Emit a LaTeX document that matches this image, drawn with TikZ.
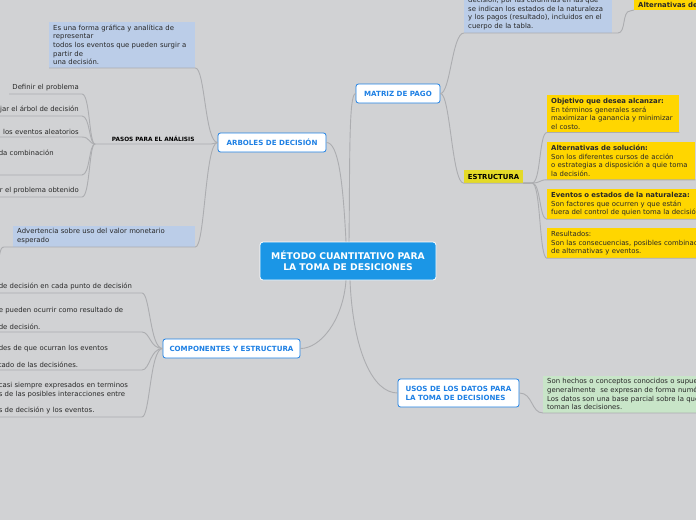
\documentclass[tikz,border=0pt]{standalone}
\usepackage{fontspec}
\setmainfont{DejaVu Sans}
\usetikzlibrary{positioning,calc}
\definecolor{fondoColor}{RGB}{209,210,212}
\definecolor{linkColor}{RGB}{172,173,176}
\definecolor{rootColor}{RGB}{27,150,230}
\definecolor{topicColor}{RGB}{30,128,228}
\definecolor{notaColor}{RGB}{187,205,232}
\definecolor{goldColor}{RGB}{255,214,0}
\definecolor{estrColor}{RGB}{228,218,40}
\definecolor{verdeColor}{RGB}{200,229,200}
\definecolor{textColor}{RGB}{40,40,40}

\begin{document}
\begin{tikzpicture}[x=1pt,y=-1pt,textColor]
    \tikzstyle{link} = [draw=linkColor,line width=0.9pt]
    \tikzstyle{root} = [rectangle,rounded corners=3pt,fill=rootColor,draw=white,line width=0.8pt,text=white,font=\bfseries\fontsize{9.2}{11}\selectfont,align=center,minimum width=176pt,minimum height=38pt]
    \tikzstyle{topic} = [rectangle,rounded corners=2.5pt,fill=white,draw=topicColor,line width=0.8pt,text=topicColor,font=\bfseries\fontsize{7.1}{9}\selectfont,minimum height=19pt]
    \tikzstyle{nota} = [rectangle,fill=notaColor,font=\fontsize{6.9}{8.6}\selectfont,align=left,inner xsep=4pt,inner ysep=3pt]
    \tikzstyle{gold} = [nota,fill=goldColor]
    \tikzstyle{verde} = [nota,fill=verdeColor]
    \tikzstyle{hoja} = [font=\fontsize{6.9}{8.6}\selectfont,inner xsep=3pt,inner ysep=2.5pt]

    \useasboundingbox (0,0) rectangle (696,520);
    \fill[fondoColor] (0,0) rectangle (696,520);
    \clip (0,0) rectangle (696,520);

    % temas principales
    \node[root] (metodo) at (348,261) {MÉTODO CUANTITATIVO PARA\\LA TOMA DE DESICIONES};
    \node[topic,minimum width=84pt] (matriz) at (398,93.5) {MATRIZ DE PAGO};
    \node[topic,minimum width=108pt] (arboles) at (272,142.5) {ARBOLES DE DECISIÓN};
    \node[topic,minimum width=137pt] (compo) at (231.5,348.5) {COMPONENTES Y ESTRUCTURA};
    \node[topic,minimum width=121pt,minimum height=28pt,align=left] (usos) at (458.5,393) {USOS DE LOS DATOS PARA\\LA TOMA DE DECISIONES};

    \draw[link] ([xshift=1pt]metodo.north) .. controls +(1,-80) and +(-7,0) .. (matriz.west);
    \draw[link] ([xshift=-2pt]metodo.north) .. controls +(-3,-60) and +(12,0) .. (arboles.east);
    \draw[link] ([xshift=-2pt]metodo.south) .. controls +(-3,40) and +(20,0) .. (compo.east);
    \draw[link] ([xshift=2pt]metodo.south) .. controls +(3,70) and +(-25,0) .. (usos.west);

    % matriz de pago
    \node[nota,anchor=south west,text width=140pt] (mnota) at (464,33) {decisión, por las columnas en las que\\se indican los estados de la naturaleza\\y los pagos (resultado), incluidos en el\\cuerpo de la tabla.};
    \node[gold,anchor=south west,font=\bfseries\fontsize{6.9}{8.6}\selectfont,inner ysep=2pt] (altdec) at (634,10) {Alternativas de decisión};
    \node[rectangle,fill=estrColor,font=\bfseries\fontsize{6.9}{8}\selectfont,text=black,minimum width=59pt,minimum height=13pt] (estr) at (493.5,176.5) {ESTRUCTURA};

    \draw[link] (matriz.east) .. controls +(10,0) and +(-12,0) .. (mnota.south west) -- (mnota.south east);
    \draw[link] (mnota.south east) -- (618,33) .. controls (626,33) and (622,11) .. (630,11) -- (altdec.south west);
    \draw[link] (matriz.east) .. controls +(10,0) and +(-12,0) .. (estr.south west) -- (estr.south east);

    \node[gold,anchor=north west,text width=124pt] (objetivo) at (547,95) {\textbf{Objetivo que desea alcanzar:}\\En términos generales será\\\mbox{maximizar la ganancia y minimizar}\\el costo.};
    \node[gold,anchor=north west,text width=140pt] (altsol) at (547,142) {\textbf{Alternativas de solución:}\\Son los diferentes cursos de acción\\\mbox{o estrategias a disposición a quie toma}\\la decisión.};
    \node[gold,anchor=north west,text width=180pt] (eventos) at (547,189) {\textbf{Eventos o estados de la naturaleza:}\\Son factores que ocurren y que están\\fuera del control de quien toma la decisión.};
    \node[gold,anchor=north west,text width=180pt] (result) at (547,228) {Resultados:\\Son las consecuencias, posibles combinaciones\\de alternativas y eventos.};

    \foreach \hijo in {objetivo,altsol,eventos,result}
      \draw[link] (estr.south east) -- (532,183) .. controls (541,183) and (539,0|-\hijo.south west) .. (\hijo.south west) -- (\hijo.south east);

    % arboles de decision
    \node[nota,anchor=south west,text width=138pt] (anota) at (49,68) {\mbox{Es una forma gráfica y analítica de}\\representar\\\mbox{todos los eventos que pueden surgir a}\\partir de\\una decisión.};
    \node[font=\bfseries\fontsize{5.8}{7}\selectfont,text=black,anchor=south west,minimum width=116pt,inner ysep=2.5pt] (pasos) at (95,144) {PASOS PARA EL ANÁLISIS};
    \node[nota,anchor=south west,text width=174pt] (advert) at (13,247) {Advertencia sobre uso del valor monetario\\esperado};
    \coordinate (advhijo) at (-8,300);

    \draw[link] (arboles.west) .. controls (205,142.5) and (205,68) .. (anota.south east) -- (anota.south west);
    \draw[link] (arboles.west) -- (pasos.south east) -- (pasos.south west);
    \draw[link] (arboles.west) .. controls (205,142.5) and (205,247) .. (advert.south east) -- (4,247) .. controls (-1,247) and (0,256) .. (advhijo);

    \node[hoja,anchor=south east] (paso1) at (82,94) {Definir el problema};
    \node[hoja,anchor=south east] (paso2) at (82,116) {jar el árbol de decisión};
    \node[hoja,anchor=south east] (paso3) at (82,137) {los eventos aleatorios};
    \node[hoja,anchor=south east,text width=80pt,align=left] (paso4) at (82,175) {da combinación\\\mbox{}\\\mbox{}};
    \node[hoja,anchor=south east] (paso5) at (82,197) {r el problema obtenido};

    \foreach \p in {paso1,paso2,paso3,paso4,paso5}
      \draw[link] (pasos.south west) .. controls (89,144) and (90,0|-\p.south east) .. (\p.south east) -- (\p.south west);

    % componentes y estructura
    \node[hoja,anchor=south east,text width=140pt,align=left] (comp1) at (142,293) {de decisión en cada punto de decisión};
    \node[hoja,anchor=south east,text width=140pt,align=left] (comp2) at (142,332) {e pueden ocurrir como resultado de\\[8pt]de decisión.};
    \node[hoja,anchor=south east,text width=140pt,align=left] (comp3) at (142,370) {des de que ocurran los eventos\\[8pt]tado de las decisiónes.};
    \node[hoja,anchor=south east,text width=140pt,align=left] (comp4) at (142,417) {casi siempre expresados en terminos\\s de las posibles interacciones entre\\[8pt]s de decisión y los eventos.};

    \foreach \c in {comp1,comp2,comp3,comp4}
      \draw[link] (compo.west) .. controls (150,348.5) and (150,0|-\c.south east) .. (\c.south east) -- (\c.south west);

    % usos de los datos
    \node[verde,anchor=south west,text width=180pt] (datos) at (543,413) {Son hechos o conceptos conocidos o supuestos\\generalmente\ \ se expresan de forma numérica.\\Los datos son una base parcial sobre la que se\\toman las decisiones.};
    \draw[link] (usos.east) .. controls (533,393) and (531,413) .. (datos.south west) -- (datos.south east);

\end{tikzpicture}
\end{document}
